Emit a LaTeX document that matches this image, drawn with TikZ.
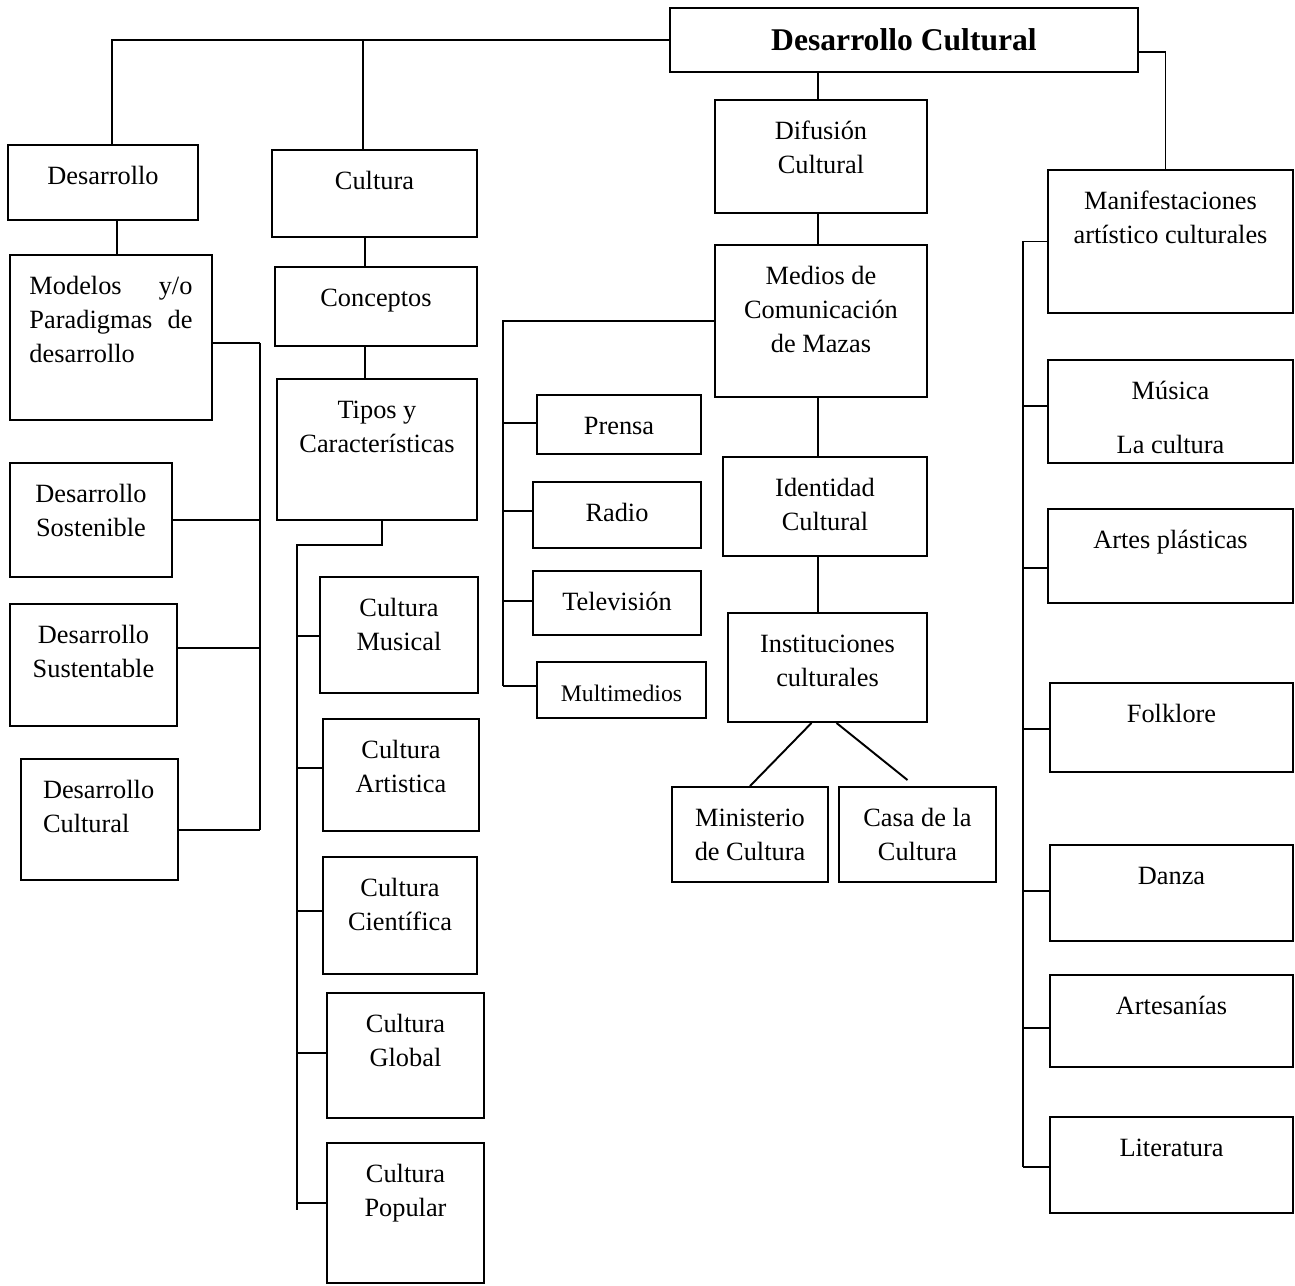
\documentclass[tikz,border=0pt]{standalone}
\usepackage{fontspec}
\setmainfont{Liberation Serif}

\newlength{\px}
\setlength{\px}{0.02cm}
% box of fixed size, text at the top
\newcommand{\bx}[3]{\parbox[t][#2\px][t]{#1\px}{\centering\rule{0pt}{39\px}#3\par}}

\begin{document}
\begin{tikzpicture}
  [x=0.02cm,y=-0.02cm,line width=1.1pt,
   every node/.style={draw,inner sep=0pt,font=\fontsize{15}{19.4}\selectfont},
   title/.style={minimum width=468\px,minimum height=64\px,font=\fontsize{18}{22}\selectfont\bfseries}]
  \useasboundingbox (0,0) rectangle (1295,1285);

  \node[title] (dc) at (904,40) {Desarrollo Cultural};

  \node (des)  at (103,182.5)  {\bx{190}{75}{Desarrollo}};
  \node (mod)  at (111,337.5)  {\bx{202}{165}{\parbox[t]{163\px}{Modelos y/o\linebreak Paradigmas de\linebreak desarrollo}}};
  \node (sos)  at (91,520)     {\bx{162}{114}{Desarrollo\\Sostenible}};
  \node (sus)  at (93.5,665)   {\bx{167}{122}{Desarrollo\\Sustentable}};
  \node (dcul) at (99.5,819.5) {\bx{157}{121}{\parbox[t]{113\px}{\raggedright Desarrollo\\Cultural}}};

  \node (cul)  at (374.5,193.5)  {\bx{205}{87}{Cultura}};
  \node (con)  at (376,306.5)    {\bx{202}{79}{Conceptos}};
  \node (tip)  at (377,449.5)    {\bx{200}{141}{Tipos y\\Características}};
  \node (cmus) at (399,635)      {\bx{158}{116}{Cultura\\Musical}};
  \node (cart) at (401,775)      {\bx{156}{112}{Cultura\\Artistica}};
  \node (ccie) at (400,915.5)    {\bx{154}{117}{Cultura\\Científica}};
  \node (cglo) at (405.5,1055.5) {\bx{157}{125}{Cultura\\Global}};
  \node (cpop) at (405.5,1213)   {\bx{157}{140}{Cultura\\Popular}};

  \node (dif)  at (821,156.5)  {\bx{212}{113}{Difusión\\Cultural}};
  \node (med)  at (821,321)    {\bx{212}{152}{Medios de\\Comunicación\\de Mazas}};
  \node (pre)  at (619,424.5)  {\bx{164}{59}{Prensa}};
  \node (rad)  at (617,515)    {\bx{168}{66}{Radio}};
  \node (tel)  at (617,603)    {\bx{168}{64}{Televisión}};
  \node (mul)  at (621.5,690)  {\bx{169}{56}{\fontsize{13.5}{17}\selectfont Multimedios}};
  \node (ide)  at (825,506.5)  {\bx{204}{99}{Identidad\\Cultural}};
  \node (ins)  at (827.5,667.5) {\bx{199}{109}{Instituciones\\culturales}};
  \node (min)  at (750,834.5)  {\bx{156}{95}{Ministerio\\de Cultura}};
  \node (casa) at (917.5,834.5) {\bx{157}{95}{Casa de la\\Cultura}};

  \node (man)  at (1170.5,241.5) {\bx{245}{143}{Manifestaciones\\artístico culturales}};
  \node (mus)  at (1170.5,411.5) {\bx{245}{103}{Música\\[20\px]La cultura}};
  \node (art)  at (1170.5,556)   {\bx{245}{94}{Artes plásticas}};
  \node (fol)  at (1171.5,727.5) {\bx{243}{89}{Folklore}};
  \node (dan)  at (1171.5,893)   {\bx{243}{96}{Danza}};
  \node (arte) at (1171.5,1021)  {\bx{243}{92}{Artesanías}};
  \node (lit)  at (1171.5,1165)  {\bx{243}{96}{Literatura}};

  % top level
  \coordinate (jdes) at (112,40);
  \coordinate (jcul) at (363,40);
  \draw (dc.west) -- (jdes) -- (jdes |- des.north);
  \draw (jcul) -- (jcul |- cul.north);
  \draw ([yshift=-12\px]dc.east) -| ([xshift=-5\px]man.north);
  \draw ([xshift=-3\px]dif.north) -- ([xshift=-3\px]dif.north |- dc.south);

  % desarrollo
  \draw ([xshift=14\px]des.south) -- ([xshift=6\px]mod.north);
  \coordinate (busL) at (260,343);
  \draw (busL) -- ++(0,487);
  \foreach \n/\y in {mod/343, sos/520, sus/648, dcul/830}
    \draw (\n.east |- 0,\y) -- (busL |- 0,\y);

  % cultura
  \draw ([xshift=-9.5\px]cul.south) -- ([xshift=-11\px]con.north);
  \draw ([xshift=-11\px]con.south) -- ([xshift=-12\px]tip.north);
  \coordinate (busC) at (297,545);
  \draw ([xshift=5\px]tip.south) |- (busC) -- ++(0,665);
  \foreach \n/\y in {cmus/636, cart/768, ccie/911, cglo/1053, cpop/1203}
    \draw (busC |- 0,\y) -- (\n.west |- 0,\y);

  % difusion
  \draw ([xshift=-3\px]dif.south) -- ([xshift=-3\px]med.north);
  \draw ([xshift=-3\px]med.south) -- ([xshift=-7\px]ide.north);
  \draw ([xshift=-7\px]ide.south) -- ([xshift=-9.5\px]ins.north);
  \coordinate (busM) at (503,321);
  \draw (med.west) -- (busM) -- ++(0,365);
  \foreach \n/\y in {pre/423, rad/511, tel/601, mul/686}
    \draw (busM |- 0,\y) -- (\n.west |- 0,\y);
  \draw ([xshift=-16\px]ins.south) -- (min.north);
  \draw ([xshift=9\px]ins.south) -- ([xshift=-10\px,yshift=6\px]casa.north);

  % manifestaciones
  \coordinate (busR) at (1023,241.5);
  \draw (man.west) -- (busR) -- ++(0,925.5);
  \foreach \n/\y in {mus/406, art/568, fol/729, dan/891, arte/1028, lit/1167}
    \draw (busR |- 0,\y) -- (\n.west |- 0,\y);
\end{tikzpicture}
\end{document}
